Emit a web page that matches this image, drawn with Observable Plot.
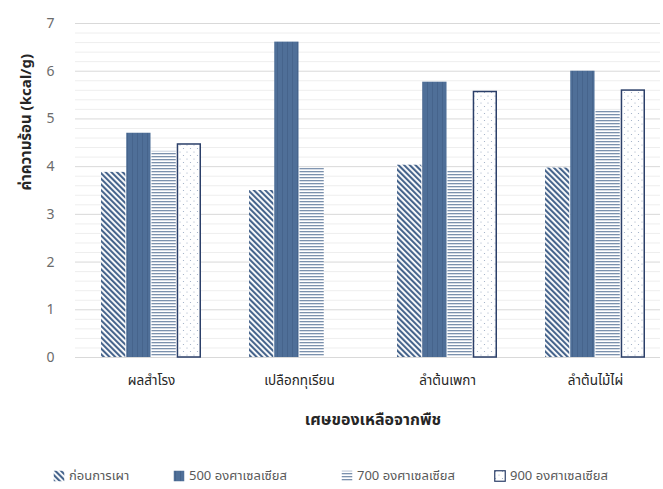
<!DOCTYPE html>
<html>
<head>
<meta charset="utf-8">
<script src="https://cdn.jsdelivr.net/npm/d3@7"></script>
<script src="https://cdn.jsdelivr.net/npm/@observablehq/plot@0.6"></script>
<style>
  html, body { margin: 0; padding: 0; background: #fff; }
  body { width: 663px; height: 489px; overflow: hidden; font-family: "Noto Sans Thai", "Open Sans", "Noto Sans", sans-serif; }
  #legend { position: relative; height: 49px; }
  .item { position: absolute; top: 26px; display: flex; align-items: center; font-size: 13px; color: #595959; white-space: nowrap; }
  .item svg { margin-right: 4px; }
</style>
</head>
<body>
<div id="chart"></div>
<div id="legend"></div>
<script>
const categories = ["ผลสำโรง", "เปลือกทุเรียน", "ลำต้นเพกา", "ลำต้นไม้ไผ่"];
const seriesNames = ["ก่อนการเผา", "500 องศาเซลเซียส", "700 องศาเซลเซียส", "900 องศาเซลเซียส"];
const beforeBurn = [3.88, 3.50, 4.03, 3.97];
const temp500 = [4.70, 6.61, 5.77, 6.00];
const temp700 = [4.32, 3.96, 3.90, 5.18];
const temp900 = [4.48, null, 5.58, 5.61];
const yTicks = [0, 1, 2, 3, 4, 5, 6, 7];
const minorTicks = [0.2, 0.4, 0.6, 0.8, 1.2, 1.4, 1.6, 1.8, 2.2, 2.4, 2.6, 2.8, 3.2, 3.4, 3.6, 3.8,
  4.2, 4.4, 4.6, 4.8, 5.2, 5.4, 5.6, 5.8, 6.2, 6.4, 6.6, 6.8];
const yLabel = "ค่าความร้อน (kcal/g)";
const xLabel = "เศษของเหลือจากพืช";

const seriesValues = [beforeBurn, temp500, temp700, temp900];
const tables = seriesValues.map((vals, s) =>
  categories.map((c, i) => ({category: c, series: seriesNames[s], value: vals[i]})).filter(d => d.value != null)
);

const patternDefs = `
<pattern id="pHatch" width="4" height="4" patternUnits="userSpaceOnUse" patternTransform="rotate(-45)">
  <rect width="4" height="4" fill="#ffffff"/>
  <rect width="2.1" height="4" fill="#46648c"/>
</pattern>
<pattern id="pSolid" width="5" height="5" patternUnits="userSpaceOnUse">
  <rect width="5" height="5" fill="#4f6f98"/>
  <rect x="2" width="1" height="5" fill="#46648c"/>
</pattern>
<pattern id="pHoriz" width="4" height="3" patternUnits="userSpaceOnUse">
  <rect width="4" height="3" fill="#ffffff"/>
  <rect width="4" height="1.3" fill="#7b91ad"/>
</pattern>
<pattern id="pDots" width="7" height="7" patternUnits="userSpaceOnUse">
  <rect width="7" height="7" fill="#ffffff"/>
  <circle cx="1.5" cy="1.5" r="0.6" fill="#9aaac2"/>
  <circle cx="5" cy="5" r="0.6" fill="#9aaac2"/>
</pattern>`;
const fills = ["url(#pHatch)", "url(#pSolid)", "url(#pHoriz)", "url(#pDots)"];
const strokes = [null, null, null, "#2b3f69"];

function defsMark() {
  const g = document.createElementNS("http://www.w3.org/2000/svg", "defs");
  g.innerHTML = patternDefs;
  return g;
}

const bandWidth = 100.96;
const sub = bandWidth / 4;

const barMarks = tables.map((data, s) => Plot.barY(data, {
  x: "category",
  y: "value",
  fill: fills[s],
  stroke: strokes[s] || undefined,
  strokeWidth: strokes[s] ? 1.5 : undefined,
  insetLeft: s * sub + (strokes[s] ? 0.75 : 0),
  insetRight: (3 - s) * sub + (strokes[s] ? 0.75 : 0),
  insetTop: strokes[s] ? 0.75 : 0
}));

const chart = Plot.plot({
  width: 663,
  height: 440,
  marginLeft: 75,
  marginRight: 3,
  marginTop: 23,
  marginBottom: 83,
  style: {fontFamily: '"Noto Sans Thai", "Open Sans", "Noto Sans", sans-serif', background: "#fff"},
  x: {type: "band", domain: categories, range: [76.2, 670.8], paddingInner: 0.321, paddingOuter: 0.16},
  y: {domain: [0, 7]},
  marks: [
    defsMark,
    Plot.ruleY(minorTicks, {stroke: "#eeeeee", strokeWidth: 1}),
    Plot.ruleY(yTicks, {stroke: "#d9d9d9", strokeWidth: 1}),
    ...barMarks,
    Plot.axisY({ticks: yTicks, tickFormat: d => String(d), tickSize: 0, tickPadding: 21, label: null, fontSize: 14, color: "#6b6b6b"}),
    Plot.axisX({tickSize: 0, tickPadding: 18, label: null, fontSize: 13.5, color: "#262626"}),
    Plot.text([yLabel], {frameAnchor: "left", rotate: -90, dx: -49, fontSize: 15, fontWeight: "bold", fill: "#262626"}),
    Plot.text([xLabel], {frameAnchor: "bottom", dy: 67, dx: 5, fontSize: 16, fontWeight: "bold", fill: "#262626"})
  ]
});
document.getElementById("chart").appendChild(chart);

const legend = document.getElementById("legend");
const lefts = [53, 173, 341, 494];
seriesNames.forEach((name, s) => {
  const item = document.createElement("div");
  item.className = "item";
  item.style.left = lefts[s] + "px";
  const sw = `<svg width="12" height="12"><rect x="0.75" y="0.75" width="10.5" height="10.5" fill="${fills[s]}" ${s === 3 ? 'stroke="#2b3f69" stroke-width="1.2"' : ''}/></svg>`;
  item.innerHTML = sw + `<span>${name}</span>`;
  legend.appendChild(item);
});
</script>
</body>
</html>
